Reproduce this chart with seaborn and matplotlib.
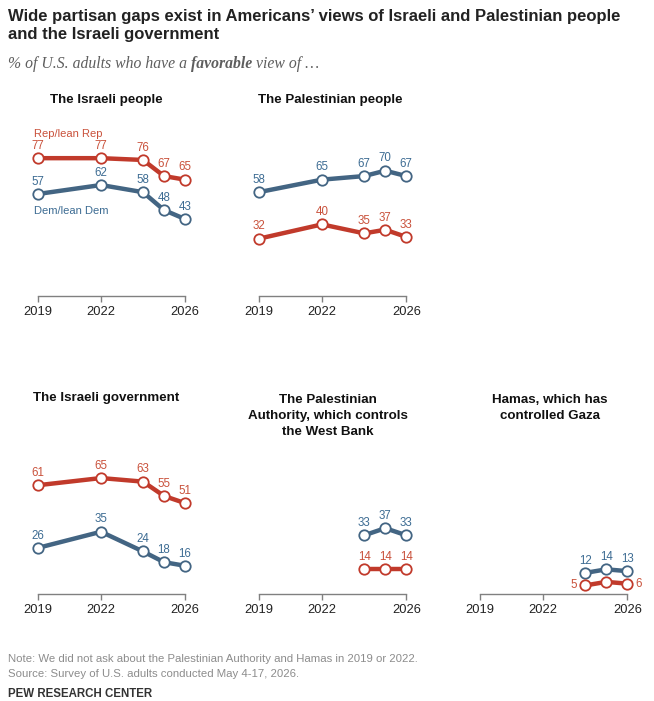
import numpy as np
import pandas as pd
import matplotlib.pyplot as plt
import seaborn as sns

# Dados
years = [2019, 2022, 2024, 2025, 2026]
new_years = [2024, 2025, 2026]

isr_people_rep = [77, 77, 76, 67, 65]
isr_people_dem = [57, 62, 58, 48, 43]
pal_people_rep = [32, 40, 35, 37, 33]
pal_people_dem = [58, 65, 67, 70, 67]
isr_gov_rep = [61, 65, 63, 55, 51]
isr_gov_dem = [26, 35, 24, 18, 16]
pa_rep = [14, 14, 14]
pa_dem = [33, 37, 33]
hamas_rep = [5, 7, 6]
hamas_dem = [12, 14, 13]

panel_titles = ['The Israeli people', 'The Palestinian people', 'The Israeli government',
                'The Palestinian\nAuthority, which controls\nthe West Bank',
                'Hamas, which has\ncontrolled Gaza']
tick_years = [2019, 2022, 2026]

RED = '#C13A2B'
RED_TXT = '#C9513B'
BLUE = '#436583'
BLUE_TXT = '#3D6C93'

sns.set_style('white')
plt.rcParams['font.family'] = ['Liberation Sans', 'DejaVu Sans']
NARROW = ['Liberation Sans Narrow', 'Liberation Sans', 'DejaVu Sans']

W, H = 654, 701
fig = plt.figure(figsize=(W / 100, H / 100), dpi=100)


def px_axes(x0, x1, ybot, ytop):
    return fig.add_axes([x0 / W, 1 - ybot / H, (x1 - x0) / W, (ybot - ytop) / H])


axes = [
    px_axes(38, 185, 296, 117),
    px_axes(258.7, 406.3, 296, 117),
    px_axes(38, 185, 594.4, 415.4),
    px_axes(258.7, 406.3, 594.4, 415.4),
    px_axes(479.7, 627.3, 594.4, 415.4),
]

panels = [
    (years, isr_people_rep, isr_people_dem),
    (years, pal_people_rep, pal_people_dem),
    (years, isr_gov_rep, isr_gov_dem),
    (new_years, pa_rep, pa_dem),
    (new_years, hamas_rep, hamas_dem),
]

for i, (ax, (xs, rep, dem)) in enumerate(zip(axes, panels)):
    for vals, col in [(dem, BLUE), (rep, RED)]:
        sns.lineplot(x=xs, y=vals, ax=ax, color=col, lw=3.2, marker='o', markersize=7.5,
                     markerfacecolor='white', markeredgecolor=col, markeredgewidth=1.3,
                     clip_on=False, zorder=3)
    # rótulos de valores
    for vals, tcol, series in [(dem, BLUE_TXT, 'dem'), (rep, RED_TXT, 'rep')]:
        for j, (x, v) in enumerate(zip(xs, vals)):
            if i == 4 and series == 'rep':
                if j == 0:
                    ax.annotate(str(v), (x, v), xytext=(-6, 0), textcoords='offset points',
                                ha='right', va='center', fontsize=8.3, color=tcol)
                elif j == 2:
                    ax.annotate(str(v), (x, v), xytext=(6, 0), textcoords='offset points',
                                ha='left', va='center', fontsize=8.3, color=tcol)
                continue
            ax.annotate(str(v), (x, v), xytext=(0, 4.5), textcoords='offset points',
                        ha='center', va='bottom', fontsize=8.3, color=tcol)

    ax.set_xlim(2019, 2026)
    ax.set_ylim(0, 100)
    ax.set_xticks(tick_years)
    ax.set_xticklabels([str(t) for t in tick_years], fontsize=9.3, color='#222222')
    ax.set_yticks([])
    ax.set_xlabel('')
    ax.set_ylabel('')
    for s in ['top', 'left', 'right']:
        ax.spines[s].set_visible(False)
    ax.spines['bottom'].set_color('#808080')
    ax.spines['bottom'].set_linewidth(1)
    ax.tick_params(axis='x', bottom=True, direction='out', length=4.5, width=1,
                   color='#808080', pad=2.5)
    ax.patch.set_visible(False)

# títulos dos painéis
title_pos = [(106, 100), (330, 100), (106, 398), (328, 394), (550, 394)]
for (tx, ty), t in zip(title_pos, panel_titles):
    fig.text(tx / W, 1 - ty / H, t, ha='center', va='top' if '\n' in t else 'center',
             fontsize=9.6, fontweight='bold', family=NARROW, color='#111111',
             linespacing=1.45)

# rótulos de série
axes[0].text(2018.8, 90.5, 'Rep/lean Rep', ha='left', va='center', fontsize=8, color=RED_TXT)
axes[0].text(2018.8, 47.5, 'Dem/lean Dem', ha='left', va='center', fontsize=8, color=BLUE_TXT)

# título e subtítulo
fig.text(8 / W, 1 - 17 / H, 'Wide partisan gaps exist in Americans\u2019 views of Israeli and Palestinian people',
         ha='left', va='center', fontsize=12, fontweight='bold', family=NARROW, color='#222222')
fig.text(8 / W, 1 - 35 / H, 'and the Israeli government',
         ha='left', va='center', fontsize=12, fontweight='bold', family=NARROW, color='#222222')

sub_kw = dict(family=['Liberation Serif', 'DejaVu Serif'], style='italic', fontsize=11.3, color='#5E5E5E')
t1 = fig.text(8 / W, 1 - 68 / H, '% of U.S. adults who have a ', ha='left', va='baseline', **sub_kw)
t2 = axes[0].annotate('favorable', xy=(1, 0), xycoords=t1, ha='left', va='bottom',
                      fontweight='bold', **sub_kw)
axes[0].annotate(' view of \u2026', xy=(1, 0), xycoords=t2, ha='left', va='bottom', **sub_kw)

# notas
fig.text(8 / W, 1 - 659 / H, 'Note: We did not ask about the Palestinian Authority and Hamas in 2019 or 2022.',
         ha='left', va='center', fontsize=8.2, color='#8C8C8C')
fig.text(8 / W, 1 - 674 / H, 'Source: Survey of U.S. adults conducted May 4-17, 2026.',
         ha='left', va='center', fontsize=8.2, color='#8C8C8C')
fig.text(8 / W, 1 - 688 / H, 'PEW RESEARCH CENTER', ha='left', va='top',
         fontsize=8.3, fontweight='bold', family=NARROW, color='#333333')

fig.savefig('out.png', dpi=100)
